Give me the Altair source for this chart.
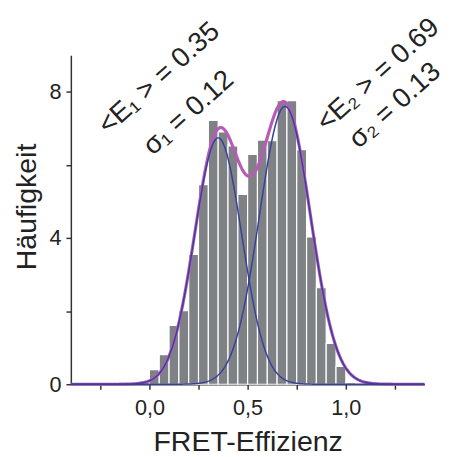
import altair as alt
import pandas as pd

# Histogram (bin start, bin end, height)
bin_start = [-0.05, 0.00, 0.05, 0.10, 0.15, 0.20, 0.25, 0.30, 0.35, 0.40, 0.45,
             0.50, 0.55, 0.60, 0.65, 0.70, 0.75, 0.80, 0.85, 0.90, 0.95, 1.00]
heights = [0.09, 0.40, 0.81, 1.61, 2.01, 3.55, 5.46, 7.22, 6.90, 6.52, 5.19,
           6.29, 6.68, 6.66, 7.76, 7.76, 6.42, 4.03, 2.64, 1.12, 0.49, 0.04]
bin_width = 0.05

# Gaussian fit parameters (amplitude, mean, sigma)
amp = [6.74, 7.60]
mean = [0.35, 0.69]
sigma = [0.12, 0.13]

# Annotations
ann_x = [0.05, 0.20, 1.165, 1.25]
ann_y = [8.36, 7.42, 8.46, 7.62]
ann_text = ["<E₁ > = 0.35", "σ₁ = 0.12", "<E₂ > = 0.69", "σ₂ = 0.13"]

x_ticks = [-0.25, 0.0, 0.25, 0.5, 0.75, 1.0, 1.25]
y_ticks = [0, 2, 4, 6, 8]

W, H = 360, 335
FONT = "Liberation Sans"

hist = pd.DataFrame({
    "start": bin_start,
    "end": [b + bin_width for b in bin_start],
    "count": heights,
    "zero": [0] * len(heights),
})
ann = pd.DataFrame({"x": ann_x, "y": ann_y, "label": ann_text})

xs = alt.Scale(domain=[-0.4, 1.4], nice=False, zero=False)
ys = alt.Scale(domain=[0, 9], nice=False)

x_axis = alt.Axis(
    values=x_ticks,
    labelExpr="indexof([0, 0.5, 1], datum.value) >= 0 ? replace(format(datum.value, '.1f'), '.', ',') : ''",
    title="FRET-Effizienz", titleY=67, titleBaseline="alphabetic",
    tickSize=5, labelPadding=9, grid=False,
)
y_axis = alt.Axis(
    values=y_ticks,
    labelExpr="datum.value % 4 == 0 ? datum.label : ''",
    title="Häufigkeit", titleAngle=270, titleX=-36, titleY=154,
    titleAlign="center", titleBaseline="alphabetic",
    tickSize=5, labelPadding=5, grid=False,
)

bars = alt.Chart(hist).mark_rect(color="#7e8285", stroke="white", strokeWidth=1.2).encode(
    x=alt.X("start:Q", scale=xs, axis=x_axis),
    x2="end:Q",
    y=alt.Y("count:Q", scale=ys, axis=y_axis),
    y2="zero:Q",
)

g1 = f"{amp[0]}*exp(-pow(datum.x-{mean[0]},2)/(2*{sigma[0]}*{sigma[0]}))"
g2 = f"{amp[1]}*exp(-pow(datum.x-{mean[1]},2)/(2*{sigma[1]}*{sigma[1]}))"

base_curve = alt.Chart(alt.sequence(-0.4, 1.4001, 0.004, as_="x")).transform_calculate(
    g1=g1, g2=g2
).transform_calculate(total="datum.g1 + datum.g2")

sum_line = base_curve.mark_line(color="#b75cb4", strokeWidth=3.2).encode(
    x=alt.X("x:Q", scale=xs),
    y=alt.Y("total:Q", scale=ys),
)

comp_lines = base_curve.transform_fold(["g1", "g2"], as_=["comp", "val"]).mark_line(
    color="#3a3f9e", strokeWidth=1.5
).encode(
    x=alt.X("x:Q", scale=xs),
    y=alt.Y("val:Q", scale=ys),
    detail="comp:N",
)

texts = alt.Chart(ann).mark_text(
    angle=318, align="center", baseline="middle", fontSize=28, font=FONT, color="#222222"
).encode(
    x=alt.X("x:Q", scale=xs),
    y=alt.Y("y:Q", scale=ys),
    text="label:N",
)

chart = alt.layer(bars, sum_line, comp_lines, texts).properties(
    width=W, height=H,
    autosize=alt.AutoSizeParams(type="none"),
    padding={"left": 64, "top": 44, "right": 23, "bottom": 70},
).configure_view(stroke=None).configure_axis(
    domainColor="#333333", domainWidth=1.5, tickColor="#333333", tickWidth=1.5,
    labelFont=FONT, labelFontSize=22, labelColor="#222222",
    titleFont=FONT, titleFontSize=29, titleFontWeight="normal", titleColor="#222222",
)

chart.save("out.html", embed_options={"renderer": "svg", "actions": False})
